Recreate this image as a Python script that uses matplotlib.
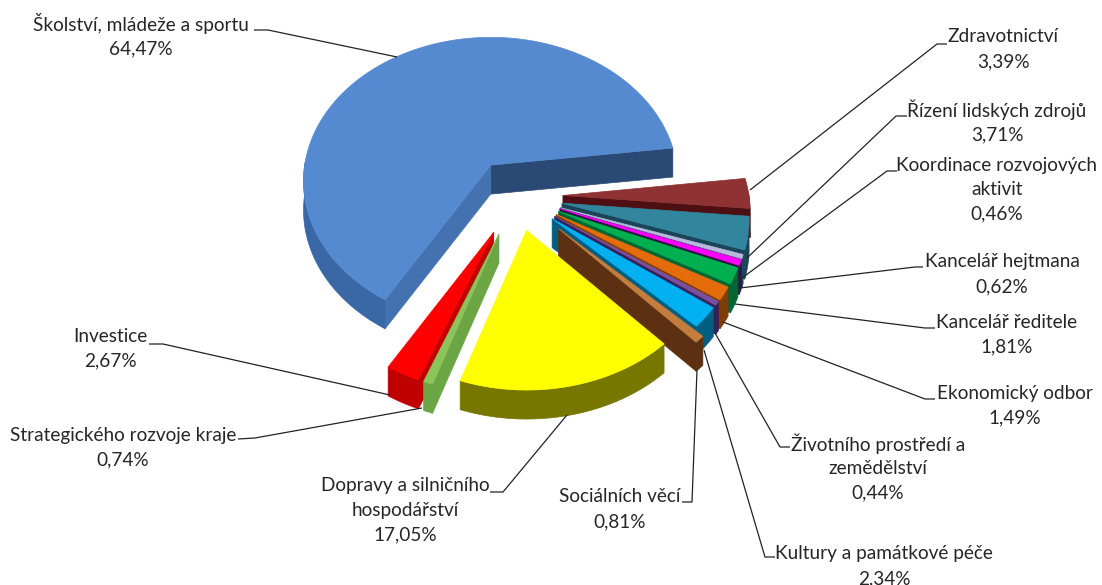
import numpy as np
import matplotlib
matplotlib.use("Agg")
import matplotlib.pyplot as plt

plt.rcParams['font.family'] = ['Lato', 'DejaVu Sans']

# order = clockwise from the end of the big blue slice
nazvy = ['Zdravotnictví', 'Řízení lidských zdrojů', 'Koordinace rozvojových\naktivit',
         'Kancelář hejtmana', 'Kancelář ředitele', 'Ekonomický odbor',
         'Životního prostředí a\nzemědělství', 'Kultury a památkové péče', 'Sociálních věcí',
         'Dopravy a silničního\nhospodářství', 'Strategického rozvoje kraje', 'Investice',
         'Školství, mládeže a sportu']
hodnoty = [3.39, 3.71, 0.46, 0.62, 1.81, 1.49, 0.44, 2.34, 0.81, 17.05, 0.74, 2.67, 64.47]

barvy = ['#8E3234', '#31859C', '#B9B9DE', '#FF00FF', '#00B050', '#E46C0A', '#7A4FA0',
         '#00B0F0', '#C47D3C', '#FFFF00', '#8CC45C', '#FF0000', '#558AD0']
boky = ['#4E0F12', '#1A4558', '#20485A', '#2A1840', '#006634', '#7F3D06', '#35205A',
        '#005F80', '#5E3012', '#777700', '#6BA544', '#C00000', '#3A68A6']

# explode factor of each slice
vysunuti = [1.0, 1.0, 1.0, 1.0, 1.0, 1.0, 1.0, 1.0, 1.3, 1.0, 1.15, 1.15, 1.05]

# leader lines: slice end, elbow, text end
vodici = [[(750, 190), (937, 44), (947, 44)],
          [(747, 258), (896, 116), (907, 116)],
          [(742, 278), (887, 171), (897, 171)],
          [(740, 288), (915, 267), (923, 267)],
          [(735, 304), (925, 328), (935, 328)],
          [(723, 322), (925, 399), (935, 399)],
          [(715, 333), (780, 447), (790, 447)],
          [(704, 350), (765, 557), (775, 557)],
          [(697, 370), (692, 502), (682, 502)],
          [(567, 415), (503, 492), (490, 492)],
          [(422, 408), (255, 438), (238, 439)],
          [(390, 395), (163, 344), (149, 344)],
          [(397, 57), (268, 30), (254, 30)]]
# centre of first text line
popisky = [(1003, 37), (997, 110), (997, 165), (1002, 262), (1007, 322), (1015, 393),
           (878, 444), (884, 554), (620, 497), (405, 486), (123, 435), (110, 336), (141, 24)]

START = 7.0
CX, CY = 517, 196
A, B, K = 186, 142, 0.111
EXPL = 0.247
HLOUBKA = 29
RADEK = 24.5


def proj(theta):
    u, v = np.cos(theta), np.sin(theta)
    s = 1 / (1 + K * v)
    return A * u * s, -B * v * s


def kresli_vysec(ax, hi, lo, f, barva, bok, bok_lo=None, bok_hi=None):
    mid = np.radians((hi + lo) / 2)
    ox = CX + EXPL * f * A * np.cos(mid)
    oy = CY - EXPL * f * B * np.sin(mid)
    th = np.radians(np.linspace(lo, hi, max(int(hi - lo) * 2, 6)))
    px, py = proj(th)
    px, py = px + ox, py + oy

    # radial faces turned to the viewer
    if np.sin(np.radians(lo - 90)) < 0:
        ax.fill([ox, px[0], px[0], ox], [oy, py[0], py[0] + HLOUBKA, oy + HLOUBKA],
                color=bok_lo or bok, lw=0.5)
    if np.sin(np.radians(hi + 90)) < 0:
        ax.fill([ox, px[-1], px[-1], ox], [oy, py[-1], py[-1] + HLOUBKA, oy + HLOUBKA],
                color=bok_hi or bok, lw=0.5)
    # outer rim, front part only
    m = np.sin(th) < 0.02
    if m.sum() > 1:
        ax.fill(np.r_[px[m], px[m][::-1]], np.r_[py[m], py[m][::-1] + HLOUBKA], color=bok, lw=0.5)
    ax.fill(np.r_[ox, px], np.r_[oy, py], color=barva, lw=0.5)


fig = plt.figure(figsize=(11.02, 5.85), dpi=100)
ax = fig.add_axes([0, 0, 1, 1])
ax.set_xlim(0, 1102)
ax.set_ylim(585, 0)
ax.axis('off')

hranice = START - np.cumsum([0] + hodnoty) * 3.6
# blue at the back first, then clockwise round the front; yellow goes on top of the brown one
poradi = [12, 0, 1, 2, 3, 4, 5, 6, 7, 8, 11, 10, 9]
for i in poradi:
    if i == 12:
        kresli_vysec(ax, hranice[i] + 360, hranice[i + 1] + 360, vysunuti[i], barvy[i], boky[i],
                     bok_lo='#2A4A75', bok_hi='#4472B0')
    else:
        kresli_vysec(ax, hranice[i], hranice[i + 1], vysunuti[i], barvy[i], boky[i])

for i in range(len(nazvy)):
    xs, ys = zip(*vodici[i])
    ax.plot(xs, ys, color='#222222', lw=0.9, solid_capstyle='butt', zorder=3)
    x, y = popisky[i]
    radky = nazvy[i].split('\n') + ['%.2f%%' % hodnoty[i]]
    for j, r in enumerate(radky):
        ax.text(x, y + j * RADEK, r.replace('.', ','), ha='center', va='center',
                fontsize=13.7, color='#262626')

fig.savefig('out.png', dpi=100)
